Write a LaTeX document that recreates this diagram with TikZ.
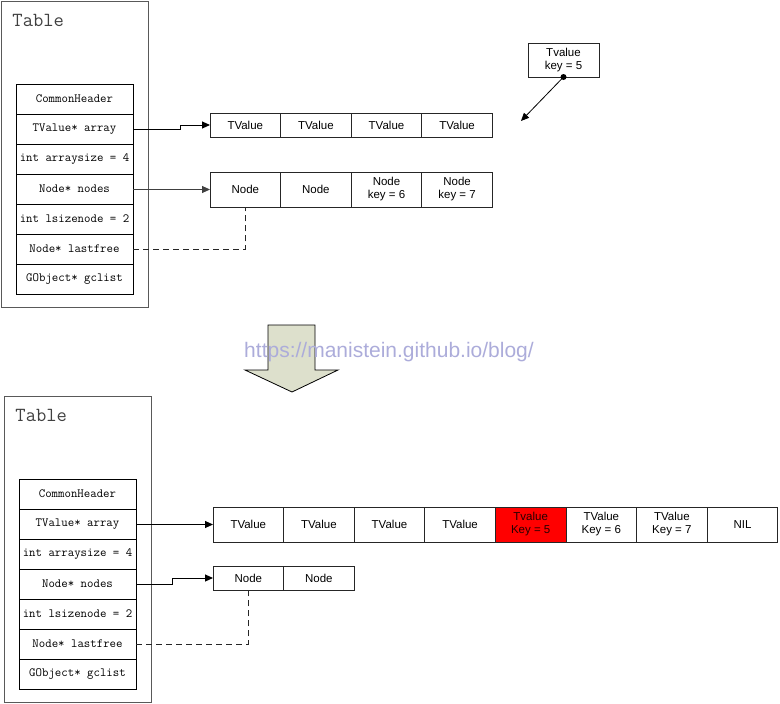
\documentclass[tikz,border=0pt]{standalone}
\usepackage{fontspec}
\setmainfont{Liberation Sans}
\usetikzlibrary{positioning,arrows.meta}

\definecolor{arrowfill}{RGB}{221,224,204}
\definecolor{markblue}{RGB}{172,172,218}
\definecolor{keyred}{RGB}{255,0,0}

\begin{document}
\begin{tikzpicture}[x=1pt,y=-1pt,node distance=0pt,line width=1pt,
         >={Triangle[length=8pt,width=7pt]},
         frame/.style={draw=black!65,minimum width=147pt,minimum height=306pt,inner sep=0pt,outer sep=0pt},
         title/.style={anchor=north west,inner sep=0pt,text=black!75,font=\fontsize{20}{22}\selectfont\ttfamily},
         field/.style={draw,minimum width=117pt,minimum height=30pt,inner sep=0pt,outer sep=0pt,font=\fontsize{12.5}{13}\selectfont\ttfamily},
         cell/.style={draw=black!85,minimum width=70.6pt,minimum height=24pt,inner sep=0pt,outer sep=0pt,align=center,font=\fontsize{11.5}{13}\selectfont},
         tall cell/.style={cell,minimum height=35pt},
         free link/.style={draw=black!85,dash pattern=on 6pt off 4pt}]

     \useasboundingbox (0,0) rectangle (780,704);

     % before: table with four array slots
     \node[frame,anchor=north west] (tableA) at (1,1) {};
     \node[title] (titleA) at (12,14) {Table};
     \node[field,anchor=north west] (hdrA) at (16,84) {CommonHeader};
     \node[field] (arrayA) [below=of hdrA]   {TValue* array};
     \node[field] (sizeA)  [below=of arrayA] {int arraysize = 4};
     \node[field] (nodesA) [below=of sizeA]  {Node* nodes};
     \node[field] (lsizeA) [below=of nodesA] {int lsizenode = 2};
     \node[field] (freeA)  [below=of lsizeA] {Node* lastfree};
     \node[field] (gcA)    [below=of freeA]  {GObject* gclist};

     \node[cell,anchor=north west] (arrA1) at (210,113) {TValue};
     \node[cell] (arrA2) [right=of arrA1] {TValue};
     \node[cell] (arrA3) [right=of arrA2] {TValue};
     \node[cell] (arrA4) [right=of arrA3] {TValue};

     \node[tall cell,anchor=north west] (nodeA1) at (210,172) {Node};
     \node[tall cell] (nodeA2) [right=of nodeA1] {Node};
     \node[tall cell] (nodeA3) [right=of nodeA2] {Node\\key = 6};
     \node[tall cell] (nodeA4) [right=of nodeA3] {Node\\key = 7};

     \node[tall cell,minimum width=71pt,minimum height=34pt,anchor=north west] (newkey) at (528,43) {Tvalue\\key = 5};
     \coordinate (slot) at (521,121);

     \draw[->] (arrayA.east) -- ++(47,0) |- (arrA1.west);
     \draw[->,draw=black!75] (nodesA.east) -- ++(47,0) |- (nodeA1.west);
     \draw[free link] (freeA.east) -| (nodeA1.south);
     \fill (newkey.south) circle (3pt);
     \draw[->,line width=0.8pt] (newkey.south) -- (slot);

     % resize
     \draw[fill=arrowfill,line width=0.8pt] (268,325) -- (315,325) -- (315,370) -- (338,370)
         -- (292,392) -- (245,370) -- (268,370) -- cycle;
     \node[text=markblue,font=\fontsize{21}{22}\selectfont] (mark) at (389,352) {https://manistein.github.io/blog/};

     % after: table with eight array slots
     \node[frame,anchor=north west] (tableB) at (4,396) {};
     \node[title] (titleB) at (15,409) {Table};
     \node[field,anchor=north west] (hdrB) at (19,479) {CommonHeader};
     \node[field] (arrayB) [below=of hdrB]   {TValue* array};
     \node[field] (sizeB)  [below=of arrayB] {int arraysize = 4};
     \node[field] (nodesB) [below=of sizeB]  {Node* nodes};
     \node[field] (lsizeB) [below=of nodesB] {int lsizenode = 2};
     \node[field] (freeB)  [below=of lsizeB] {Node* lastfree};
     \node[field] (gcB)    [below=of freeB]  {GObject* gclist};

     \node[tall cell,anchor=north west] (arrB1) at (213,507) {TValue};
     \node[tall cell] (arrB2) [right=of arrB1] {TValue};
     \node[tall cell] (arrB3) [right=of arrB2] {TValue};
     \node[tall cell] (arrB4) [right=of arrB3] {TValue};
     \node[tall cell,fill=keyred,text=black!85!red] (arrB5) [right=of arrB4] {Tvalue\\Key = 5};
     \node[tall cell] (arrB6) [right=of arrB5] {TValue\\Key = 6};
     \node[tall cell] (arrB7) [right=of arrB6] {TValue\\Key = 7};
     \node[tall cell] (arrB8) [right=of arrB7] {NIL};

     \node[cell,anchor=north west] (nodeB1) at (213,566) {Node};
     \node[cell] (nodeB2) [right=of nodeB1] {Node};

     \draw[->] (arrayB.east) -- ++(36,0) |- (arrB1.west);
     \draw[->] (nodesB.east) -- ++(36,0) |- (nodeB1.west);
     \draw[free link] (freeB.east) -| (nodeB1.south);
 \end{tikzpicture}
\end{document}
